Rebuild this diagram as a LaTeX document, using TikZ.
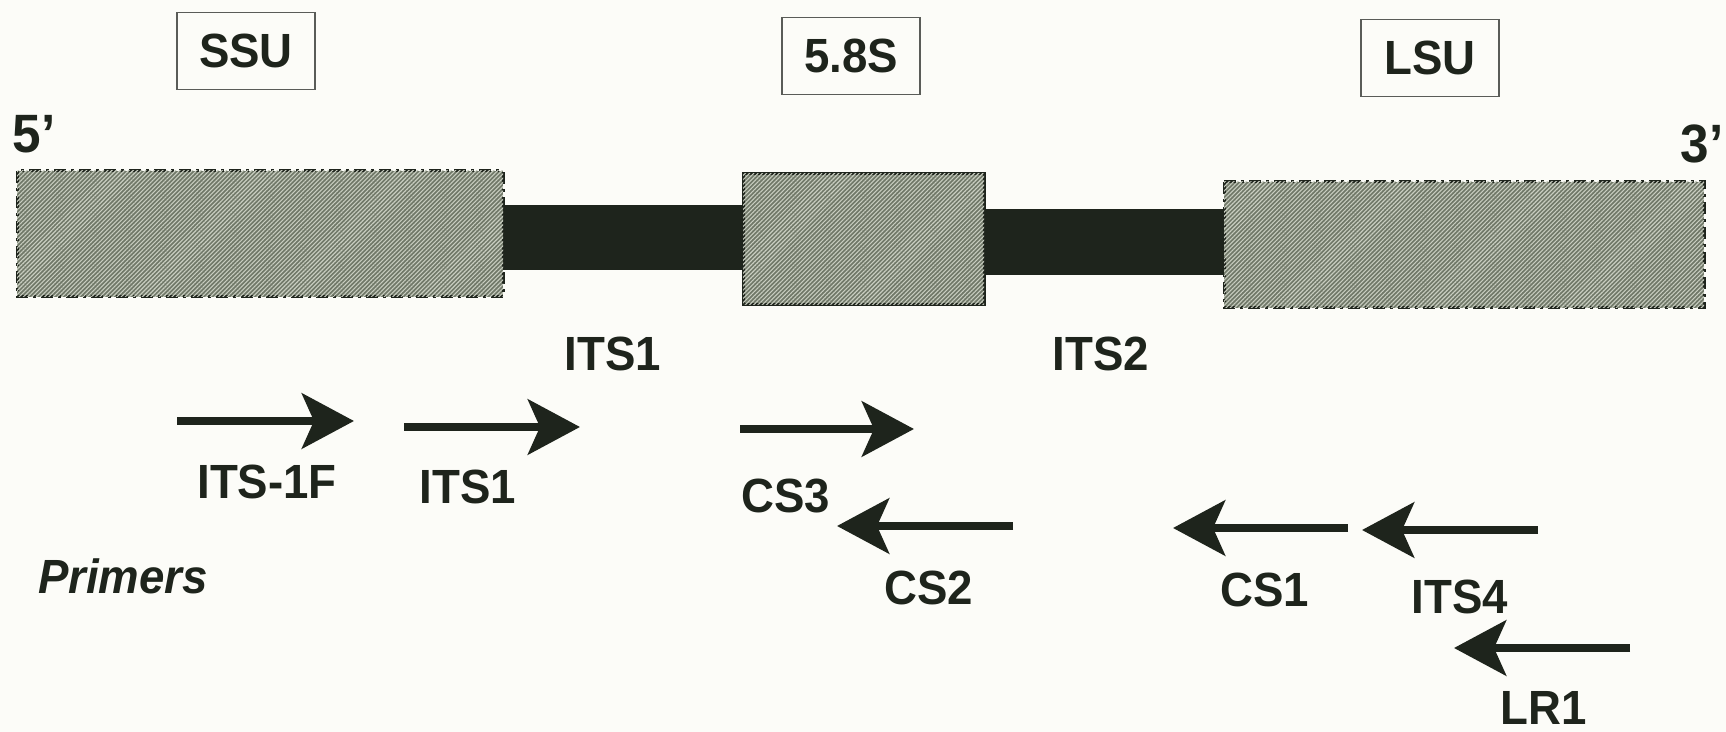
\documentclass[tikz,border=0pt]{standalone}
\usepackage{fontspec}
\setmainfont{Liberation Sans}
\newfontfamily\labelfont[FakeStretch=0.95]{Liberation Sans}
\usetikzlibrary{arrows.meta,patterns.meta}
\definecolor{ink}{RGB}{30,36,28}
\definecolor{paper}{RGB}{252,252,248}
\definecolor{hatchbg}{RGB}{112,120,104}
\definecolor{hatchline}{RGB}{200,205,192}
\definecolor{frame}{RGB}{90,92,88}

\begin{document}
\begin{tikzpicture}[x=0.5pt,y=-0.5pt,
  lbl/.style={font=\labelfont\fontsize{24}{26}\selectfont\bfseries, text=ink, inner sep=0pt},
  endlbl/.style={font=\labelfont\fontsize{27}{30}\selectfont\bfseries, text=ink, inner sep=0pt},
  titlebox/.style={lbl, draw=frame, line width=0.6pt, minimum height=38.5pt, minimum width=69pt},
  hatched/.style={fill=hatchbg, postaction={pattern={Lines[angle=45,distance=1.5pt,line width=0.55pt]}, pattern color=hatchline}},
  rrna/.style={hatched, draw=ink, line width=1.5pt, dash pattern=on 6pt off 2.5pt on 1.5pt off 2.5pt},
  core/.style={hatched, draw=ink, line width=1.5pt},
  spacer/.style={fill=ink},
  primer/.style={draw=ink, line width=4.3pt, -{Stealth[length=26pt, width=27.5pt, inset=6pt]}}]

\fill[paper] (0,0) rectangle (1726,732);
\useasboundingbox (0,0) rectangle (1726,732);

% gene blocks and spacers
\path[spacer] (500,205) rectangle (746,270);
\path[spacer] (980,209) rectangle (1228,275);
\path[rrna] (17,171) rectangle (503,297);
\path[core] (743,174) rectangle (984,305);
\path[rrna] (1224,182) rectangle (1704,308);

% region titles
\node[titlebox] (ssu) at (246,51) {SSU};
\node[titlebox] (s58) at (851,56) {5.8S};
\node[titlebox] (lsu) at (1430,58) {LSU};

\node[endlbl] (five) at (34,134) {5’};
\node[endlbl] (three) at (1702,144) {3’};

\node[lbl] (its1r) at (613,354) {ITS1};
\node[lbl] (its2r) at (1101,354) {ITS2};

% primer arrows
\coordinate (a1s) at (177,421);  \coordinate (a1e) at (354,421);
\coordinate (a2s) at (404,427);  \coordinate (a2e) at (580,427);
\coordinate (a3s) at (740,429);  \coordinate (a3e) at (914,429);
\coordinate (b1s) at (1013,526); \coordinate (b1e) at (837,526);
\coordinate (b2s) at (1348,528); \coordinate (b2e) at (1173,528);
\coordinate (b3s) at (1538,530); \coordinate (b3e) at (1362,530);
\coordinate (b4s) at (1630,648); \coordinate (b4e) at (1454,648);

\draw[primer] (a1s) -- (a1e);
\draw[primer] (a2s) -- (a2e);
\draw[primer] (a3s) -- (a3e);
\draw[primer] (b1s) -- (b1e);
\draw[primer] (b2s) -- (b2e);
\draw[primer] (b3s) -- (b3e);
\draw[primer] (b4s) -- (b4e);

\node[lbl] (p1) at (267,482) {ITS-1F};
\node[lbl] (p2) at (468,487) {ITS1};
\node[lbl] (p3) at (786,496) {CS3};
\node[lbl] (p4) at (929,588) {CS2};
\node[lbl] (p5) at (1265,590) {CS1};
\node[lbl] (p6) at (1460,597) {ITS4};
\node[lbl] (p7) at (1544,708) {LR1};

\node[lbl, font=\labelfont\fontsize{24}{26}\selectfont\bfseries\itshape] (prim) at (123,576) {Primers};
\end{tikzpicture}
\end{document}
